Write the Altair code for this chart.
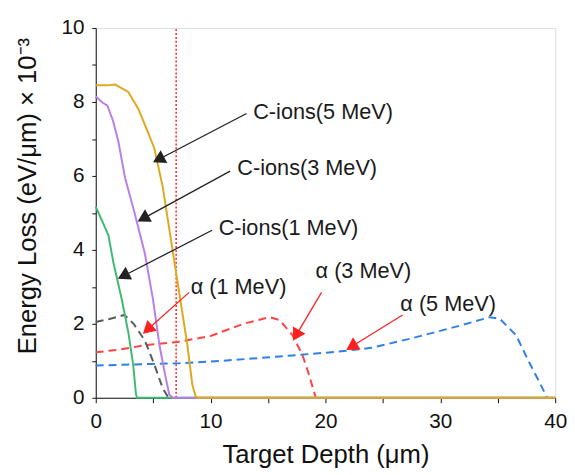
import math
import altair as alt
import pandas as pd

# ---- data ----
gold_x = [0, 1.0, 1.7, 2.83, 3.7, 4.4, 5.1, 5.84, 6.55, 7.27, 7.98, 8.41, 8.7, 8.9, 40]
gold_y = [8.45, 8.45, 8.47, 8.27, 7.82, 7.29, 6.75, 5.69, 4.27, 2.84, 1.42, 0.35, 0.04, 0, 0]
purple_x = [0, 0.6, 1.0, 1.5, 1.97, 2.55, 3.4, 4.27, 4.98, 5.55, 6.04, 6.4, 6.7, 40]
purple_y = [8.15, 7.98, 7.91, 7.5, 6.93, 5.95, 4.98, 3.91, 2.67, 1.42, 0.62, 0.09, 0, 0]
green_x = [0, 1.1, 1.55, 2.26, 2.83, 3.26, 3.5, 3.6, 40]
green_y = [5.17, 4.4, 3.64, 2.67, 1.78, 0.89, 0.1, 0, 0]
gray_x = [0, 1.2, 2.5, 3.3, 4.27, 5.1, 5.84, 6.3]
gray_y = [2.05, 2.13, 2.24, 2.0, 1.55, 0.9, 0.25, 0.02]
red_x = [0, 2, 4.27, 7.12, 10, 12.85, 15.14, 16, 17.14, 18, 18.57, 19.14]
red_y = [1.23, 1.3, 1.42, 1.51, 1.67, 2.0, 2.18, 2.1, 1.69, 1.15, 0.62, 0.02]
blue_x = [0, 3, 7.1, 11, 15.7, 20.9, 24, 27.4, 31.7, 34.3, 35.2, 36.6, 37.7, 38.6, 39.3]
blue_y = [0.87, 0.9, 0.93, 1.0, 1.11, 1.24, 1.35, 1.6, 1.95, 2.18, 2.13, 1.69, 0.98, 0.44, 0.0]

series = [
    ("α (5 MeV)", blue_x, blue_y, "#2F7FE8", [8, 5]),
    ("α (3 MeV)", red_x, red_y, "#FF4444", [8, 5]),
    ("α (1 MeV)", gray_x, gray_y, "#5A5A5A", [8, 5]),
    ("C-ions(1 MeV)", green_x, green_y, "#3DBB72", [1, 0]),
    ("C-ions(3 MeV)", purple_x, purple_y, "#B77FEA", [1, 0]),
    ("C-ions(5 MeV)", gold_x, gold_y, "#E0A81E", [1, 0]),
]

# annotations
ann_text = ["C-ions(5 MeV)", "C-ions(3 MeV)", "C-ions(1 MeV)", "α (1 MeV)", "α (3 MeV)", "α (5 MeV)"]
ann_tx = [13.71, 12.33, 10.7, 8.27, 19.14, 26.52]
ann_ty = [7.73, 6.22, 4.58, 2.98, 3.42, 2.53]
arr_x0 = [13.13, 11.7, 10.13, 8.13, 19.66, 26.72]
arr_y0 = [7.69, 6.13, 4.53, 2.85, 2.85, 2.24]
arr_x1 = [5.18, 3.84, 2.12, 4.27, 17.28, 22.0]
arr_y1 = [6.4, 4.8, 3.25, 1.78, 1.6, 1.33]
arr_color = ["#222222", "#222222", "#222222", "#FF2020", "#FF2020", "#FF2020"]

marker_x = [7]

W, H = 466, 375
XMAX, YMAX = 40, 10
FONT = "Liberation Sans"

xs = alt.Scale(domain=[0, XMAX], nice=False, zero=False)
ys = alt.Scale(domain=[0, YMAX], nice=False)

layers = []
# vertical dotted marker
vdf = pd.DataFrame({"x": marker_x, "y0": [0], "y1": [YMAX]})
layers.append(
    alt.Chart(vdf).mark_rule(color="#FF2020", strokeDash=[2, 2], strokeWidth=1.5).encode(
        x=alt.X("x:Q", scale=xs), y=alt.Y("y0:Q", scale=ys), y2="y1:Q"
    )
)

for name, sx_, sy_, col, dash in series:
    df = pd.DataFrame({"x": sx_, "y": sy_, "s": name})
    kw = dict(color=col, strokeWidth=2)
    if dash != [1, 0]:
        kw["strokeDash"] = dash
    layers.append(
        alt.Chart(df).mark_line(**kw).encode(
            x=alt.X("x:Q", scale=xs), y=alt.Y("y:Q", scale=ys)
        )
    )

# arrows
pxx, pxy = W / XMAX, H / YMAX
h = 5.8
rows = []
for i in range(len(ann_text)):
    dxp = (arr_x1[i] - arr_x0[i]) * pxx
    dyp = -(arr_y1[i] - arr_y0[i]) * pxy
    L = math.hypot(dxp, dyp)
    ux, uy = dxp / L, dyp / L
    ang = math.degrees(math.atan2(dxp, -dyp)) % 360
    cx = arr_x1[i] - h * ux / pxx
    cy = arr_y1[i] + h * uy / pxy
    rows.append(dict(x0=arr_x0[i], y0=arr_y0[i], x1=arr_x1[i], y1=arr_y1[i],
                     cx=cx, cy=cy, ang=ang, col=arr_color[i],
                     t=ann_text[i], tx=ann_tx[i], ty=ann_ty[i]))
adf = pd.DataFrame(rows)

layers.append(
    alt.Chart(adf).mark_rule(strokeWidth=1.3).encode(
        x=alt.X("x0:Q", scale=xs), y=alt.Y("y0:Q", scale=ys),
        x2="cx:Q", y2="cy:Q", color=alt.Color("col:N", scale=None)
    )
)
layers.append(
    alt.Chart(adf).mark_point(shape="triangle", filled=True, size=210, opacity=1).encode(
        x=alt.X("cx:Q", scale=xs), y=alt.Y("cy:Q", scale=ys),
        angle=alt.Angle("ang:Q", scale=None),
        color=alt.Color("col:N", scale=None)
    )
)
layers.append(
    alt.Chart(adf).mark_text(align="left", baseline="middle", fontSize=22, font=FONT, color="#1a1a1a").encode(
        x=alt.X("tx:Q", scale=xs), y=alt.Y("ty:Q", scale=ys), text="t:N"
    )
)

x_axis = alt.Axis(
    title="Target Depth (μm)", values=list(range(0, 41, 5)),
    labelExpr="datum.value % 10 == 0 ? datum.label : ''",
    grid=False, tickSize=5, labelPadding=8, labelFontSize=21, titleFontSize=26,
    labelFlush=False, labelOverlap=False,
    labelFont=FONT, titleFont=FONT, titleFontWeight="normal", labelColor="#111", titleColor="#111",
    domainColor="#111", tickColor="#111", titleX=W / 2, titleY=58, titleBaseline="middle",
)
y_axis = alt.Axis(
    title="Energy Loss (eV/μm) × 10⁻³", values=list(range(0, 11)),
    labelExpr="datum.value % 2 == 0 ? datum.label : ''",
    grid=False, tickSize=4, labelPadding=8, labelFontSize=21, titleFontSize=26,
    labelFlush=False, labelOverlap=False,
    labelFont=FONT, titleFont=FONT, titleFontWeight="normal", labelColor="#111", titleColor="#111",
    domainColor="#111", tickColor="#111", titleX=-69, titleY=170, titleBaseline="middle",
    titleAngle=270,
)

base = alt.layer(*layers).resolve_scale(color="independent")
chart = base.encode(
    x=alt.X("x:Q", scale=xs, axis=x_axis),
    y=alt.Y("y:Q", scale=ys, axis=y_axis),
).properties(
    width=W, height=H,
    autosize=alt.AutoSizeParams(type="none"),
    padding={"left": 89, "top": 17, "right": 12, "bottom": 75},
).configure_view(stroke="#222", strokeWidth=1.2).configure(background="white")

chart.save("out.html", embed_options={"renderer": "svg", "actions": False})
